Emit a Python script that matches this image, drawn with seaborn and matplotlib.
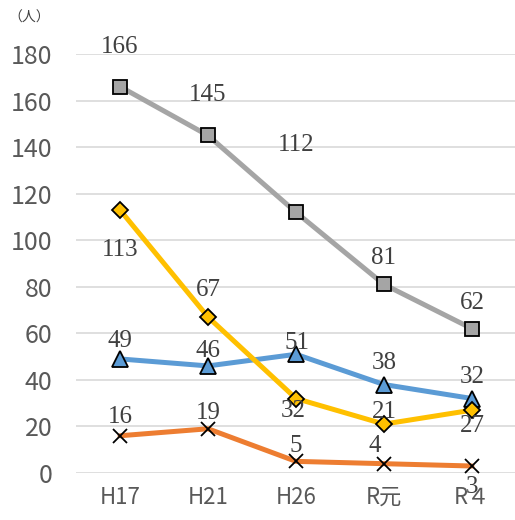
import pandas as pd
import matplotlib.pyplot as plt
import seaborn as sns

# data
years = ["H17", "H21", "H26", "R元", "R４"]
gray_vals = [166, 145, 112, 81, 62]
yellow_vals = [113, 67, 32, 21, 27]
blue_vals = [49, 46, 51, 38, 32]
orange_vals = [16, 19, 5, 4, 3]

# label offsets in pixels (dx, dy) from each marker
gray_offs = [(0, 40), (0, 40), (0, 67), (0, 26), (0, 26)]
yellow_offs = [(0, -40), (0, 27), (-3, -12), (0, 12), (0, -16)]
blue_offs = [(0, 18), (0, 15), (1, 11), (0, 22), (0, 22)]
orange_offs = [(0, 19), (0, 16), (0, 15), (-9, 18), (0, -21)]

series = [
    ("blue", blue_vals, "#5b9bd5", "^", 11, blue_offs, 3),
    ("orange", orange_vals, "#ed7d31", "x", 10, orange_offs, 3),
    ("gray", gray_vals, "#a5a5a5", "s", 10, gray_offs, 4),
    ("yellow", yellow_vals, "#ffc000", "D", 8, yellow_offs, 5),
]

sns.set_style("white")
plt.rcParams['font.family'] = ['Noto Sans CJK JP', 'DejaVu Sans']

fig = plt.figure(figsize=(5.15, 5.2), dpi=100)
ax = fig.add_axes([76 / 515, 47 / 520, 440 / 515, 419 / 520])

for name, vals, color, marker, msize, offs, z in series:
    df = pd.DataFrame({"year": years, "value": vals})
    sns.lineplot(data=df, x="year", y="value", ax=ax, color=color, linewidth=3.6,
                 marker=marker, markersize=msize, markeredgecolor="black",
                 markeredgewidth=1.3, sort=False, zorder=z,
                 markerfacecolor=color)
    for i, v in enumerate(vals):
        ax.annotate(str(v), (i, v), xytext=offs[i], textcoords="offset pixels",
                    ha="center", va="center", fontsize=18,
                    family="Liberation Serif", color="#404040", zorder=10)

ax.set_xlim(-0.5, 4.5)
ax.set_ylim(0, 180)
ax.set_yticks(range(0, 181, 20))
ax.yaxis.grid(True, color="#d9d9d9", linewidth=1.2)
ax.set_axisbelow(True)
for s in ax.spines.values():
    s.set_visible(False)
ax.tick_params(axis="y", length=0, pad=17, labelsize=18, labelcolor="#595959")
ax.tick_params(axis="x", length=0, pad=9, labelsize=16, labelcolor="#595959")
ax.set_xlabel("")
ax.set_ylabel("")

fig.text(8 / 515, 1 - 18 / 520, "（人）", fontsize=10, color="#404040",
         ha="left", va="center")

fig.savefig("out.png", dpi=100)
